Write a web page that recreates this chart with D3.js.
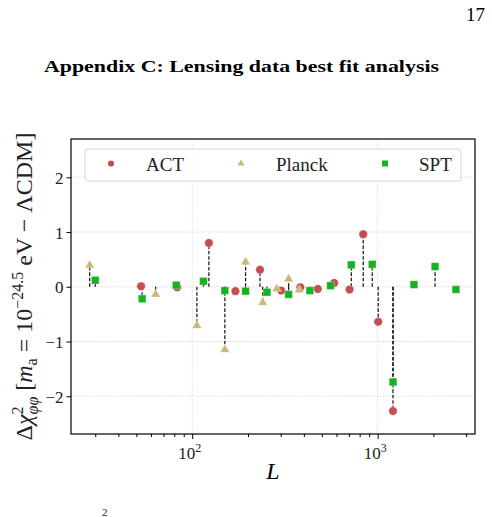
<!DOCTYPE html>
<html>
<head>
<meta charset="utf-8">
<script src="https://d3js.org/d3.v7.min.js"></script>
<style>
  body { margin: 0; background: #fff; }
  svg { display: block; font-family: "Liberation Serif", serif; }
  .axis path { display: none; }
  .axis line { stroke: #000; stroke-width: 1; }
  .axis text { font-size: 17px; fill: #222; font-family: "Liberation Serif", serif; }
</style>
</head>
<body>
<svg id="fig" width="492" height="517"></svg>
<script>
// multipoles and delta chi^2 values
const actL = [53, 83, 123, 171, 232, 302, 383, 476, 583, 706, 836, 1007, 1210];
const actV = [0.01, -0.01, 0.80, -0.08, 0.31, -0.07, -0.01, -0.04, 0.07, -0.05, 0.96, -0.64, -2.27];

const planckL = [28, 63.5, 106, 150, 194, 240, 286, 331, 378];
const planckV = [0.41, -0.12, -0.69, -1.13, 0.47, -0.27, -0.02, 0.16, -0.04];

const sptL = [30, 53.7, 82, 115, 150, 194, 253, 331, 431, 557, 721, 935, 1211, 1570, 2040, 2645];
const sptV = [0.12, -0.22, 0.03, 0.10, -0.07, -0.08, -0.10, -0.14, -0.07, 0.02, 0.40, 0.41, -1.74, 0.04, 0.37, -0.05];

const seriesNames = ["ACT", "Planck", "SPT"];
const yTicks = [-2, -1, 0, 1, 2];
const xMajor = [100, 1000];
const xMinor = [30, 40, 50, 60, 70, 80, 90, 200, 300, 400, 500, 600, 700, 800, 900, 2000, 3000];

const colors = { ACT: "#c44e52", Planck: "#ccb974", SPT: "#17b21f" };

const plot = { left: 71, right: 475, top: 139, bottom: 434 };

const svg = d3.select("#fig");

const x = d3.scaleLog().domain([22.2, 3350]).range([plot.left, plot.right]);
const y = d3.scaleLinear().domain([-2.69, 2.70]).range([plot.bottom, plot.top]);

// page header
svg.append("text")
  .attr("x", 485).attr("y", 21)
  .attr("text-anchor", "end")
  .attr("font-size", 19)
  .text("17");

svg.append("text")
  .attr("x", 241.5).attr("y", 72)
  .attr("text-anchor", "middle")
  .attr("font-size", 17)
  .attr("font-weight", "bold")
  .attr("textLength", 395)
  .attr("lengthAdjust", "spacingAndGlyphs")
  .text("Appendix C: Lensing data best fit analysis");

// grid
const grid = svg.append("g").attr("stroke", "#c4c4c4").attr("stroke-width", 0.8).attr("stroke-dasharray", "1,1.6");
xMajor.forEach(v => grid.append("line")
  .attr("x1", x(v)).attr("x2", x(v)).attr("y1", plot.top).attr("y2", plot.bottom));
yTicks.forEach(v => grid.append("line")
  .attr("x1", plot.left).attr("x2", plot.right).attr("y1", y(v)).attr("y2", y(v)));

// axes
const xAxis = svg.append("g").attr("class", "axis")
  .attr("transform", `translate(0,${plot.bottom})`)
  .call(d3.axisBottom(x).tickValues(xMajor).tickSize(5).tickPadding(4));
xAxis.selectAll("text").each(function(d) {
  const t = d3.select(this);
  t.text("10").attr("dy", "0.95em").attr("dx", -3);
  t.append("tspan").attr("dy", -7).attr("font-size", 12).text(Math.round(Math.log10(d)));
});
svg.append("g").attr("class", "axis")
  .attr("transform", `translate(0,${plot.bottom})`)
  .call(d3.axisBottom(x).tickValues(xMinor).tickSize(3).tickFormat(""));

svg.append("g").attr("class", "axis")
  .attr("transform", `translate(${plot.left},0)`)
  .call(d3.axisLeft(y).tickValues(yTicks).tickSize(4.5).tickPadding(3).tickFormat(d3.format("d")))
  .selectAll("text").attr("dy", "0.36em");

// stems from zero to each value
const stems = svg.append("g")
  .attr("stroke", "#111").attr("stroke-width", 1.2).attr("stroke-dasharray", "3.6,1.8");
[[actL, actV], [planckL, planckV], [sptL, sptV]].forEach(([ls, vs]) => {
  stems.selectAll(null).data(ls).enter().append("line")
    .attr("x1", d => x(d)).attr("x2", d => x(d))
    .attr("y1", y(0)).attr("y2", (d, i) => y(vs[i]));
});

// markers
const sym = {
  ACT: d3.symbol().type(d3.symbolCircle).size(56),
  Planck: d3.symbol().type(d3.symbolTriangle).size(38),
  SPT: d3.symbol().type(d3.symbolSquare).size(58)
};
const data = { ACT: [actL, actV], Planck: [planckL, planckV], SPT: [sptL, sptV] };
seriesNames.forEach(name => {
  const [ls, vs] = data[name];
  svg.append("g").selectAll("path").data(ls).enter().append("path")
    .attr("d", sym[name])
    .attr("transform", (d, i) => `translate(${x(d)},${y(vs[i]) + (name === "Planck" ? 1 : 0)})`)
    .attr("fill", colors[name])
    .attr("stroke", "#fff").attr("stroke-opacity", 0.5).attr("stroke-width", 0.6);
});

// frame
svg.append("rect")
  .attr("x", plot.left).attr("y", plot.top)
  .attr("width", plot.right - plot.left).attr("height", plot.bottom - plot.top)
  .attr("fill", "none").attr("stroke", "#000").attr("stroke-width", 1.2);

// legend
const leg = svg.append("g");
leg.append("rect")
  .attr("x", 85).attr("y", 149).attr("width", 376).attr("height", 32).attr("rx", 3)
  .attr("fill", "#fff").attr("fill-opacity", 0.85)
  .attr("stroke", "#d6d6d6").attr("stroke-width", 1);
const legSym = {
  ACT: d3.symbol().type(d3.symbolCircle).size(30),
  Planck: d3.symbol().type(d3.symbolTriangle).size(22),
  SPT: d3.symbol().type(d3.symbolSquare).size(36)
};
const legMarkX = [111, 241, 385];
const legTextX = [146, 276, 419];
seriesNames.forEach((name, i) => {
  leg.append("path")
    .attr("d", legSym[name])
    .attr("transform", `translate(${legMarkX[i]},${163.5})`)
    .attr("fill", colors[name]);
  leg.append("text")
    .attr("x", legTextX[i]).attr("y", 171)
    .attr("font-size", 19).attr("fill", "#222")
    .text(name);
});

// x label
svg.append("text")
  .attr("x", 273).attr("y", 479)
  .attr("text-anchor", "middle")
  .attr("font-size", 24).attr("font-style", "italic")
  .text("L");

// y label
const yl = svg.append("text")
  .attr("transform", "translate(32,286.5) rotate(-90)")
  .attr("text-anchor", "middle")
  .attr("font-size", 24).attr("fill", "#222");
yl.append("tspan").text("Δ");
yl.append("tspan").attr("font-style", "italic").text("χ");
const sup2 = yl.append("tspan").attr("font-size", 16).attr("dy", -9).text("2");
const subPhi = yl.append("tspan").attr("font-size", 16).attr("font-style", "italic").attr("dy", 15).text("φφ");
yl.append("tspan").attr("dy", -6).text(" [");
yl.append("tspan").attr("font-style", "italic").text("m");
yl.append("tspan").attr("font-size", 16).attr("dy", 5).text("a");
yl.append("tspan").attr("dy", -5).text(" = 10");
yl.append("tspan").attr("font-size", 16).attr("dy", -9).text("−24.5");
yl.append("tspan").attr("dy", 9).text(" eV − ΛCDM]");
subPhi.attr("dx", -sup2.node().getComputedTextLength());

// fragment of the next line of the page
svg.append("text")
  .attr("x", 102).attr("y", 516)
  .attr("font-size", 11).attr("fill", "#222")
  .text("2");
</script>
</body>
</html>
